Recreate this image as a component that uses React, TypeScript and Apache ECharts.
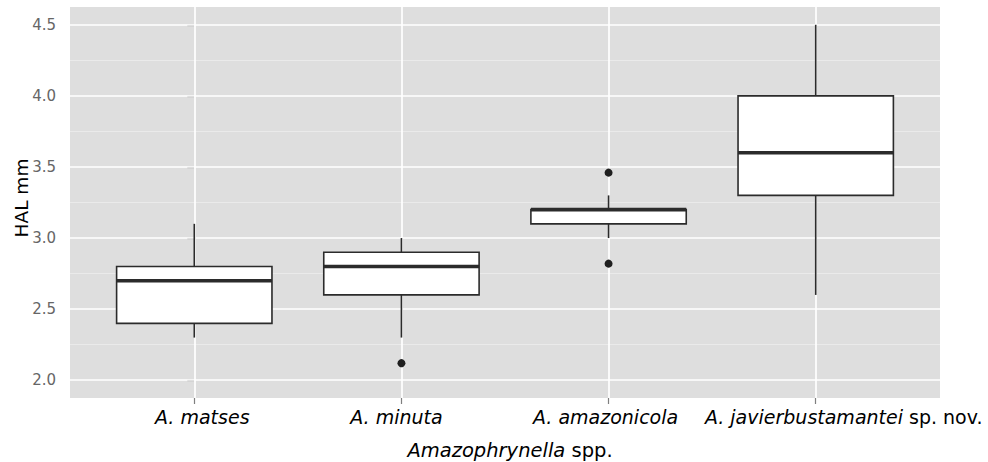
import React, { useEffect, useRef } from "react";
import * as echarts from "echarts";

// Categories (x axis)
const categories = ["A. matses", "A. minuta", "A. amazonicola", "A. javierbustamantei"];
const categorySuffix = ["", "", "", " sp. nov."];
const categoryIndex = [0, 1, 2, 3];
const labelGroupA = [0, 1, 2];
const labelGroupB = [3];

// Box statistics (HAL mm)
const lowerWhisker = [2.3, 2.3, 3.0, 2.6];
const q1 = [2.4, 2.6, 3.1, 3.3];
const median = [2.7, 2.8, 3.2, 3.6];
const q3 = [2.8, 2.9, 3.2, 4.0];
const upperWhisker = [3.1, 3.0, 3.3, 4.5];

// Outliers
const outlierCategory = [1, 2, 2];
const outlierValue = [2.12, 3.46, 2.82];

// Axis ticks / grid
const yTicks = [2.0, 2.5, 3.0, 3.5, 4.0, 4.5];
const yMinor = [2.25, 2.75, 3.25, 3.75, 4.25];
const yLimits = [1.875, 4.625];
const xLimits = [-0.6, 3.6];

const FONT = "DejaVu Sans";
// horizontal nudge of each x tick label (px), as in the reference figure
const LABEL_NUDGE = [8, -5, -3, 28];

export default function App() {
  const ref = useRef<HTMLDivElement>(null);
  useEffect(() => {
    if (!ref.current) return;
    const chart = echarts.init(ref.current, undefined, { renderer: "svg" });
    const boxData = categoryIndex.map((i) => [
      i,
      lowerWhisker[i],
      q1[i],
      median[i],
      q3[i],
      upperWhisker[i],
    ]);
    const stroke = "#2b2b2b";
    const richLabel: any = {
      i: { fontStyle: "italic", fontSize: 19, fontFamily: FONT, color: "#000" },
      n: { fontStyle: "normal", fontSize: 19, fontFamily: FONT, color: "#000" },
    };
    LABEL_NUDGE.forEach((o, k) => {
      richLabel["p" + k] = { width: Math.abs(o) * 2, fontSize: 19, fontFamily: FONT };
    });
    const labelFormatter = (v: number) => {
      const i = Math.round(v);
      const s = categorySuffix[i];
      const body = `{i|${categories[i]}}` + (s ? `{n|${s}}` : "");
      const pad = `{p${i}| }`;
      return LABEL_NUDGE[i] >= 0 ? pad + body : body + pad;
    };
    const baseX = {
      type: "value",
      gridIndex: 0,
      position: "bottom",
      min: xLimits[0],
      max: xLimits[1],
      splitLine: { show: false },
      axisLine: { show: false },
    };
    const option: any = {
      animation: false,
      backgroundColor: "#ffffff",
      grid: {
        left: 70,
        right: 48,
        top: 7,
        bottom: 64,
        show: true,
        backgroundColor: "#dedede",
        borderWidth: 0,
      },
      xAxis: [
        {
          ...baseX,
          axisTick: {
            show: true,
            customValues: categoryIndex,
            length: 6,
            lineStyle: { color: "#7f7f7f", width: 1.2 },
          },
          axisLabel: {
            customValues: labelGroupA,
            margin: 9,
            hideOverlap: false,
            showMinLabel: true,
            showMaxLabel: true,
            formatter: labelFormatter,
            rich: richLabel,
          },
        },
        {
          ...baseX,
          axisTick: { show: false },
          axisLabel: {
            customValues: labelGroupB,
            margin: 9,
            hideOverlap: false,
            showMinLabel: true,
            showMaxLabel: true,
            formatter: labelFormatter,
            rich: richLabel,
          },
        },
      ],
      yAxis: {
        type: "value",
        min: yLimits[0],
        max: yLimits[1],
        splitLine: { show: false },
        axisLine: { show: false },
        axisTick: {
          show: true,
          customValues: yTicks,
          length: 7,
          lineStyle: { color: "#7f7f7f", width: 1.2 },
        },
        axisLabel: {
          customValues: yTicks,
          margin: 14,
          formatter: (v: number) => v.toFixed(1),
          color: "#666666",
          fontSize: 15,
          fontFamily: FONT,
        },
      },
      series: [
        {
          type: "line",
          z: 1,
          data: [],
          silent: true,
          markLine: {
            silent: true,
            z: 1,
            symbol: "none",
            animation: false,
            label: { show: false },
            data: [
              ...yMinor.map((v) => ({ yAxis: v, lineStyle: { color: "#eeeeee", width: 0.8, type: "solid" } })),
              ...yTicks.map((v) => ({ yAxis: v, lineStyle: { color: "#ffffff", width: 1.7, type: "solid" } })),
              ...categoryIndex.map((v) => ({ xAxis: v, lineStyle: { color: "#ffffff", width: 1.7, type: "solid" } })),
            ],
          },
        },
        {
          type: "custom",
          z: 3,
          data: boxData,
          encode: { x: 0, y: [1, 2, 3, 4, 5] },
          renderItem: (params: any, api: any) => {
            const i = api.value(0);
            const lo = api.coord([i, api.value(1)]);
            const b1 = api.coord([i, api.value(2)]);
            const md = api.coord([i, api.value(3)]);
            const b3 = api.coord([i, api.value(4)]);
            const hi = api.coord([i, api.value(5)]);
            const half = api.size([0.75, 0])[0] / 2;
            const x = lo[0];
            return {
              type: "group",
              children: [
                { type: "line", shape: { x1: x, y1: hi[1], x2: x, y2: b3[1] }, style: { stroke, lineWidth: 1.6 } },
                { type: "line", shape: { x1: x, y1: b1[1], x2: x, y2: lo[1] }, style: { stroke, lineWidth: 1.6 } },
                {
                  type: "rect",
                  shape: { x: x - half, y: b3[1], width: 2 * half, height: b1[1] - b3[1] },
                  style: { fill: "#ffffff", stroke, lineWidth: 1.6 },
                },
                {
                  type: "line",
                  shape: { x1: x - half, y1: md[1], x2: x + half, y2: md[1] },
                  style: { stroke, lineWidth: 3.6 },
                },
              ],
            };
          },
        },
        {
          type: "scatter",
          z: 4,
          symbol: "circle",
          symbolSize: 8,
          itemStyle: { color: "#1f1f1f", opacity: 1 },
          data: outlierCategory.map((c, k) => [c, outlierValue[k]]),
        },
      ],
      graphic: [
        {
          type: "text",
          x: 21,
          y: 198,
          rotation: Math.PI / 2,
          style: {
            text: "HAL mm",
            fontSize: 18.5,
            fontFamily: FONT,
            fill: "#000",
            align: "center",
            verticalAlign: "middle",
          },
        },
        {
          type: "text",
          x: 510,
          y: 450,
          style: {
            text: "{i|Amazophrynella}{n| spp.}",
            align: "center",
            verticalAlign: "middle",
            rich: {
              i: { fontStyle: "italic", fontSize: 19.5, fontFamily: FONT, fill: "#000" },
              n: { fontStyle: "normal", fontSize: 19.5, fontFamily: FONT, fill: "#000" },
            },
          },
        },
      ],
    };
    chart.setOption(option);
    return () => chart.dispose();
  }, []);
  return (
    <div
      ref={ref}
      style={{ position: "absolute", left: 0, top: 0, width: 988, height: 462 }}
    />
  );
}
